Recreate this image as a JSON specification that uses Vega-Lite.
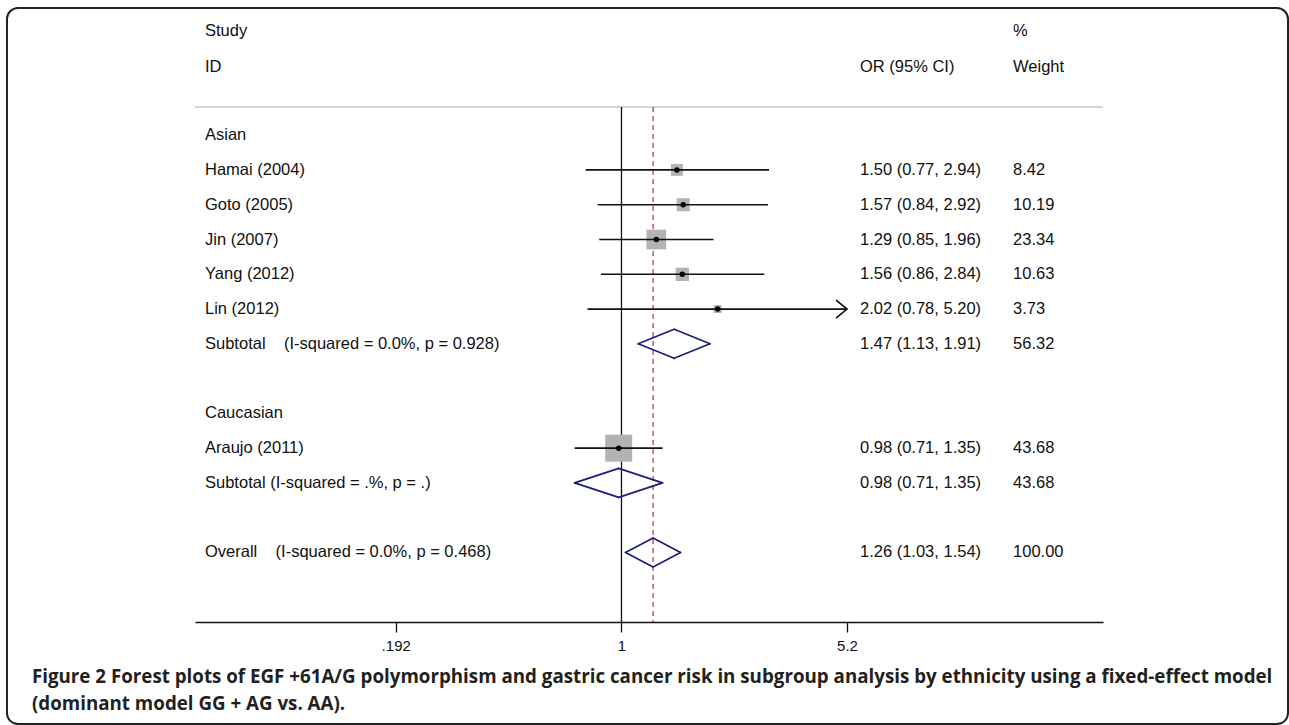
{
  "$schema": "https://vega.github.io/schema/vega-lite/v6.json",
  "width": 908,
  "height": 612,
  "autosize": {"type": "none"},
  "padding": {"left": 195, "top": 10, "right": 186, "bottom": 103},
  "background": "white",
  "config": {
    "view": {"stroke": null},
    "text": {"font": "Liberation Sans", "fontSize": 16.5, "color": "#111"},
    "axisX": {
      "grid": false,
      "domainColor": "#111", "domainWidth": 1.3,
      "ticks": true, "tickColor": "#111", "tickWidth": 1.3, "tickSize": 10,
      "labelFont": "Liberation Sans", "labelFontSize": 15, "labelColor": "#111",
      "labelPadding": 6, "labelFlush": false
    }
  },
  "datasets": {
    "rows": [
      {"label": "Asian", "row": 1, "type": "group"},
      {"label": "Hamai (2004)", "row": 2, "type": "study", "or": 1.50, "lo": 0.77, "hi": 2.94, "w": 8.42, "ci": "1.50 (0.77, 2.94)"},
      {"label": "Goto (2005)", "row": 3, "type": "study", "or": 1.57, "lo": 0.84, "hi": 2.92, "w": 10.19, "ci": "1.57 (0.84, 2.92)"},
      {"label": "Jin (2007)", "row": 4, "type": "study", "or": 1.29, "lo": 0.85, "hi": 1.96, "w": 23.34, "ci": "1.29 (0.85, 1.96)"},
      {"label": "Yang (2012)", "row": 5, "type": "study", "or": 1.56, "lo": 0.86, "hi": 2.84, "w": 10.63, "ci": "1.56 (0.86, 2.84)"},
      {"label": "Lin (2012)", "row": 6, "type": "study", "or": 2.02, "lo": 0.78, "hi": 5.20, "w": 3.73, "ci": "2.02 (0.78, 5.20)"},
      {"label": "Subtotal\u00a0\u00a0\u00a0\u00a0(I-squared = 0.0%, p = 0.928)", "row": 7, "type": "subtotal", "or": 1.47, "lo": 1.13, "hi": 1.91, "w": 56.32, "ci": "1.47 (1.13, 1.91)"},
      {"label": "Caucasian", "row": 9, "type": "group"},
      {"label": "Araujo (2011)", "row": 10, "type": "study", "or": 0.98, "lo": 0.71, "hi": 1.35, "w": 43.68, "ci": "0.98 (0.71, 1.35)"},
      {"label": "Subtotal (I-squared = .%, p = .)", "row": 11, "type": "subtotal", "or": 0.98, "lo": 0.71, "hi": 1.35, "w": 43.68, "ci": "0.98 (0.71, 1.35)"},
      {"label": "Overall\u00a0\u00a0\u00a0\u00a0(I-squared = 0.0%, p = 0.468)", "row": 13, "type": "overall", "or": 1.26, "lo": 1.03, "hi": 1.54, "w": 100.00, "ci": "1.26 (1.03, 1.54)"}
    ]
  },
  "data": {"name": "rows"},
  "layer": [
    {
      "data": {"values": [{}]},
      "mark": {"type": "rect", "filled": false, "stroke": "#222", "strokeWidth": 2, "cornerRadius": 11},
      "encoding": {
        "x": {"datum": 0.0112}, "x2": {"datum": 130.6},
        "y": {"datum": -2.6575, "axis": null}, "y2": {"datum": 17.935}
      }
    },
    {
      "data": {"values": [{}]},
      "mark": {"type": "rule", "stroke": "#c8c8c8", "strokeWidth": 1.5},
      "encoding": {
        "x": {"datum": 0.04427}, "x2": {"datum": 33.78},
        "y": {"datum": 0.19, "axis": null}
      }
    },
    {
      "data": {"values": [{}]},
      "mark": {"type": "rule", "stroke": "#111", "strokeWidth": 1.3},
      "encoding": {
        "x": {"datum": 1},
        "y": {"datum": 0.19, "axis": null}, "y2": {"datum": 15}
      }
    },
    {
      "transform": [{"filter": "datum.type === 'overall'"}],
      "mark": {"type": "rule", "stroke": "#b8404f", "strokeWidth": 1.3, "strokeDash": [5, 4]},
      "encoding": {
        "x": {"field": "or", "type": "quantitative", "title": null},
        "y": {"datum": 0.19, "axis": null}, "y2": {"datum": 15}
      }
    },
    {
      "transform": [{"filter": "datum.type === 'study'"}],
      "mark": {"type": "square", "filled": true, "color": "#b3b3b3", "opacity": 1},
      "encoding": {
        "x": {"field": "or", "type": "quantitative", "title": null},
        "y": {"field": "row", "type": "quantitative", "axis": null},
        "size": {"field": "w", "type": "quantitative", "legend": null, "scale": {"type": "linear", "domain": [0, 43.68], "range": [0, 729]}}
      }
    },
    {
      "transform": [{"filter": "datum.type === 'study'"}],
      "mark": {"type": "rule", "stroke": "#111", "strokeWidth": 1.7},
      "encoding": {
        "x": {
          "field": "lo", "type": "quantitative", "title": null,
          "scale": {"type": "log", "domain": [0.04427, 33.78], "nice": false},
          "axis": {
            "values": [0.192, 1, 5.2],
            "labelExpr": "datum.value < 0.5 ? '.192' : datum.value > 2 ? '5.2' : '1'",
            "title": null
          }
        },
        "x2": {"field": "hi"},
        "y": {"field": "row", "type": "quantitative", "axis": null, "scale": {"domain": [-2.6, 15], "reverse": true, "nice": false, "zero": false}}
      }
    },
    {
      "transform": [{"filter": "datum.type === 'study'"}],
      "mark": {"type": "point", "shape": "circle", "filled": true, "color": "#000", "size": 30, "opacity": 1},
      "encoding": {
        "x": {"field": "or", "type": "quantitative", "title": null},
        "y": {"field": "row", "type": "quantitative", "axis": null}
      }
    },
    {
      "transform": [{"filter": "datum.type === 'study' && datum.hi >= 5.2"}],
      "mark": {"type": "point", "shape": "M -1.22 -1 L 0 0 L -1.22 1", "filled": false, "stroke": "#111", "strokeWidth": 1.7, "size": 324, "opacity": 1},
      "encoding": {
        "x": {"field": "hi", "type": "quantitative", "title": null},
        "y": {"field": "row", "type": "quantitative", "axis": null}
      }
    },
    {
      "transform": [{"filter": "datum.type === 'subtotal' || datum.type === 'overall'"}],
      "mark": {"type": "rule", "stroke": "#1c1f7a", "strokeWidth": 1.7, "strokeCap": "round", "y2Offset": -14.5},
      "encoding": {
        "x": {"field": "lo", "type": "quantitative", "title": null}, "x2": {"field": "or"},
        "y": {"field": "row", "type": "quantitative", "axis": null}, "y2": {"field": "row"}
      }
    },
    {
      "transform": [{"filter": "datum.type === 'subtotal' || datum.type === 'overall'"}],
      "mark": {"type": "rule", "stroke": "#1c1f7a", "strokeWidth": 1.7, "strokeCap": "round", "y2Offset": 14.5},
      "encoding": {
        "x": {"field": "lo", "type": "quantitative", "title": null}, "x2": {"field": "or"},
        "y": {"field": "row", "type": "quantitative", "axis": null}, "y2": {"field": "row"}
      }
    },
    {
      "transform": [{"filter": "datum.type === 'subtotal' || datum.type === 'overall'"}],
      "mark": {"type": "rule", "stroke": "#1c1f7a", "strokeWidth": 1.7, "strokeCap": "round", "yOffset": -14.5},
      "encoding": {
        "x": {"field": "or", "type": "quantitative", "title": null}, "x2": {"field": "hi"},
        "y": {"field": "row", "type": "quantitative", "axis": null}, "y2": {"field": "row"}
      }
    },
    {
      "transform": [{"filter": "datum.type === 'subtotal' || datum.type === 'overall'"}],
      "mark": {"type": "rule", "stroke": "#1c1f7a", "strokeWidth": 1.7, "strokeCap": "round", "yOffset": 14.5},
      "encoding": {
        "x": {"field": "or", "type": "quantitative", "title": null}, "x2": {"field": "hi"},
        "y": {"field": "row", "type": "quantitative", "axis": null}, "y2": {"field": "row"}
      }
    },
    {
      "mark": {"type": "text", "align": "left", "baseline": "middle"},
      "encoding": {
        "x": {"datum": 0.04763},
        "y": {"field": "row", "type": "quantitative", "axis": null},
        "text": {"field": "label"}
      }
    },
    {
      "transform": [{"filter": "datum.ci != null"}],
      "mark": {"type": "text", "align": "left", "baseline": "middle"},
      "encoding": {
        "x": {"datum": 5.717},
        "y": {"field": "row", "type": "quantitative", "axis": null},
        "text": {"field": "ci"}
      }
    },
    {
      "transform": [{"filter": "datum.w != null"}],
      "mark": {"type": "text", "align": "left", "baseline": "middle"},
      "encoding": {
        "x": {"datum": 17.5},
        "y": {"field": "row", "type": "quantitative", "axis": null},
        "text": {"field": "w", "type": "quantitative", "format": ".2f"}
      }
    },
    {
      "data": {"values": [{}]},
      "mark": {"type": "text", "align": "left", "baseline": "middle"},
      "encoding": {"x": {"datum": 0.04763}, "y": {"datum": -1.996, "axis": null}, "text": {"value": "Study"}}
    },
    {
      "data": {"values": [{}]},
      "mark": {"type": "text", "align": "left", "baseline": "middle"},
      "encoding": {"x": {"datum": 0.04763}, "y": {"datum": -0.961, "axis": null}, "text": {"value": "ID"}}
    },
    {
      "data": {"values": [{}]},
      "mark": {"type": "text", "align": "left", "baseline": "middle"},
      "encoding": {"x": {"datum": 5.717}, "y": {"datum": -0.961, "axis": null}, "text": {"value": "OR (95% CI)"}}
    },
    {
      "data": {"values": [{}]},
      "mark": {"type": "text", "align": "left", "baseline": "middle"},
      "encoding": {"x": {"datum": 17.5}, "y": {"datum": -1.996, "axis": null}, "text": {"value": "%"}}
    },
    {
      "data": {"values": [{}]},
      "mark": {"type": "text", "align": "left", "baseline": "middle"},
      "encoding": {"x": {"datum": 17.5}, "y": {"datum": -0.961, "axis": null}, "text": {"value": "Weight"}}
    },
    {
      "data": {"values": [{}]},
      "mark": {"type": "text", "align": "left", "baseline": "alphabetic", "font": "Open Sans", "fontSize": 18.75, "fontWeight": "bold", "color": "#231f20"},
      "encoding": {"x": {"datum": 0.01344}, "y": {"datum": 16.756, "axis": null}, "text": {"value": "Figure 2 Forest plots of EGF +61A/G polymorphism and gastric cancer risk in subgroup analysis by ethnicity using a fixed-effect model"}}
    },
    {
      "data": {"values": [{}]},
      "mark": {"type": "text", "align": "left", "baseline": "alphabetic", "font": "Open Sans", "fontSize": 18.75, "fontWeight": "bold", "color": "#231f20"},
      "encoding": {"x": {"datum": 0.01344}, "y": {"datum": 17.532, "axis": null}, "text": {"value": "(dominant model GG + AG vs. AA)."}}
    }
  ]
}
